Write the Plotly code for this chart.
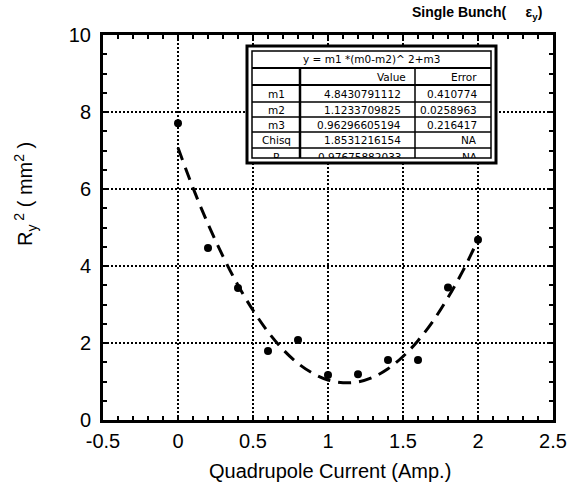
import plotly.graph_objects as go

# ---- data ----
current = [0.0, 0.2, 0.4, 0.6, 0.8, 1.0, 1.2, 1.4, 1.6, 1.8, 2.0]
r2 = [7.71, 4.47, 3.43, 1.79, 2.08, 1.17, 1.19, 1.56, 1.56, 3.44, 4.68]

fit_x = [0.0, 0.1, 0.2, 0.3, 0.4, 0.5, 0.6, 0.7, 0.8, 0.9, 1.0,
         1.1, 1.2, 1.3, 1.4, 1.5, 1.6, 1.7, 1.8, 1.9, 2.0]
fit_y = [7.07, 6.03, 5.09, 4.25, 3.50, 2.85, 2.29, 1.83, 1.47, 1.21, 1.04,
         0.97, 0.99, 1.11, 1.33, 1.65, 2.06, 2.57, 3.18, 3.88, 4.68]

x_ticks = [-0.5, 0, 0.5, 1, 1.5, 2, 2.5]
x_tick_labels = ["-0.5", "0", "0.5", "1", "1.5", "2", "2.5"]
y_ticks = [0, 2, 4, 6, 8, 10]
y_tick_labels = ["0", "2", "4", "6", "8", "10"]

fit_formula = "y = m1 *(m0-m2)^ 2+m3"
table_header = ["", "Value", "Error"]
param_names = ["m1", "m2", "m3", "Chisq"]
param_values = ["4.8430791112", "1.1233709825", "0.96296605194", "1.8531216154"]
param_errors = ["0.410774", "0.0258963", "0.216417", "NA"]
last_row = ["R", "0.97675882033", "NA"]

# ---- figure ----
W, H = 580, 488
L, R, T, B = 103, 27, 35, 68
PW, PH = W - L - R, H - T - B


def px(x):
    return (x - L) / PW


def py(y):
    return (H - B - y) / PH


fig = go.Figure()
fig.add_trace(go.Scatter(
    x=fit_x, y=fit_y, mode="lines", line_shape="spline",
    line=dict(color="black", width=3, dash="13px,8px"),
    hoverinfo="skip", showlegend=False))
fig.add_trace(go.Scatter(
    x=current, y=r2, mode="markers",
    marker=dict(color="black", size=8), showlegend=False))

tickfont = dict(family="Liberation Sans, Arial", size=20, color="black")
common = dict(
    showline=True, linecolor="black", linewidth=3, mirror="allticks",
    ticks="inside", ticklen=5, tickwidth=2, tickcolor="black",
    showgrid=True, gridcolor="black", gridwidth=1.6, griddash="2px,2px",
    zeroline=False, tickfont=tickfont,
)
fig.update_xaxes(range=[-0.5, 2.5], tickvals=x_ticks, ticktext=x_tick_labels,
                 minor=dict(dtick=0.1, ticks="inside", ticklen=4, tickwidth=2,
                            tickcolor="black", showgrid=False),
                 ticklabelstandoff=1, **common)
fig.update_yaxes(range=[0, 10], tickvals=y_ticks, ticktext=y_tick_labels,
                 minor=dict(dtick=0.5, ticks="inside", ticklen=4, tickwidth=2,
                            tickcolor="black", showgrid=False),
                 ticklabelstandoff=5, **common)

shapes = []
annotations = []

# table frame
tx0, tx1, ty0, ty1 = 247, 496, 46, 163
ix0, ix1, iy0, iy1 = 252, 491, 51, 158
shapes.append(dict(type="rect", xref="paper", yref="paper", layer="above",
                   x0=px(tx0), x1=px(tx1), y0=py(ty1), y1=py(ty0),
                   fillcolor="white", line=dict(color="black", width=3)))
shapes.append(dict(type="rect", xref="paper", yref="paper", layer="above",
                   x0=px(ix0), x1=px(ix1), y0=py(iy1), y1=py(iy0),
                   fillcolor="rgba(0,0,0,0)", line=dict(color="black", width=1.5)))
row_lines = [68, 85, 102, 117, 132, 148]
for i, yl in enumerate(row_lines):
    shapes.append(dict(type="line", xref="paper", yref="paper", layer="above",
                       x0=px(ix0), x1=px(ix1), y0=py(yl), y1=py(yl),
                       line=dict(color="black", width=2 if i < 2 else 1.5)))
col1, col2 = 300, 415
shapes.append(dict(type="line", xref="paper", yref="paper", layer="above",
                   x0=px(col1), x1=px(col1), y0=py(68), y1=py(iy1),
                   line=dict(color="black", width=2.5)))
shapes.append(dict(type="line", xref="paper", yref="paper", layer="above",
                   x0=px(col2), x1=px(col2), y0=py(68), y1=py(iy1),
                   line=dict(color="black", width=1.5)))

tfont = dict(family="DejaVu Sans", size=10.5, color="black")


def cell(text, x, y, xanchor="center", **kw):
    annotations.append(dict(text=text, xref="paper", yref="paper",
                            x=px(x), y=py(y), xanchor=xanchor, yanchor="middle",
                            showarrow=False, font=tfont, **kw))


cell(fit_formula, (ix0 + ix1) / 2, 59.5)
cell(table_header[1], 408, 76.5, xanchor="right")
cell(table_header[2], 479, 76.5, xanchor="right")
row_centers = [93.5, 109.5, 124.5, 140]
for name, val, err, yc in zip(param_names, param_values, param_errors, row_centers):
    cell(name, 276, yc)
    cell(val, 403, yc, xanchor="right")
    cell(err, 479, yc, xanchor="right")

# last row, clipped at the bottom of the table
for txt, x, xa in [(last_row[0], 276, "center"), (last_row[1], 403, "right"),
                   (last_row[2], 479, "right")]:
    annotations.append(dict(text=txt, xref="paper", yref="paper",
                            x=px(x), y=py(149.5), xanchor=xa, yanchor="top",
                            height=7, valign="top", showarrow=False, font=tfont,
                            borderpad=0))

# chart title
annotations.append(dict(
    text="Single Bunch(     ε<sub>y</sub>)", xref="paper", yref="paper",
    x=px(544), y=py(13), xanchor="right", yanchor="middle", showarrow=False,
    font=dict(family="Liberation Sans, Arial", size=14, color="black", weight="bold")))

# axis titles
annotations.append(dict(
    text="Quadrupole Current (Amp.)", xref="paper", yref="paper",
    x=px(330), y=py(471), xanchor="center", yanchor="middle", showarrow=False,
    font=dict(family="Liberation Sans, Arial", size=20, color="black")))
annotations.append(dict(
    text="R<sub>y</sub><sup> 2</sup> ( mm<sup>2</sup> )", xref="paper", yref="paper",
    x=px(25), y=py(194), xanchor="center", yanchor="middle", textangle=-90,
    showarrow=False,
    font=dict(family="Liberation Sans, Arial", size=20, color="black")))

fig.update_layout(
    width=W, height=H, margin=dict(l=L, r=R, t=T, b=B),
    paper_bgcolor="white", plot_bgcolor="white",
    shapes=shapes, annotations=annotations, showlegend=False,
)

fig.write_html("out.html",
               config={"displayModeBar": False},
               post_script="document.body.style.margin='0';"
                           "document.body.style.overflow='hidden';")
